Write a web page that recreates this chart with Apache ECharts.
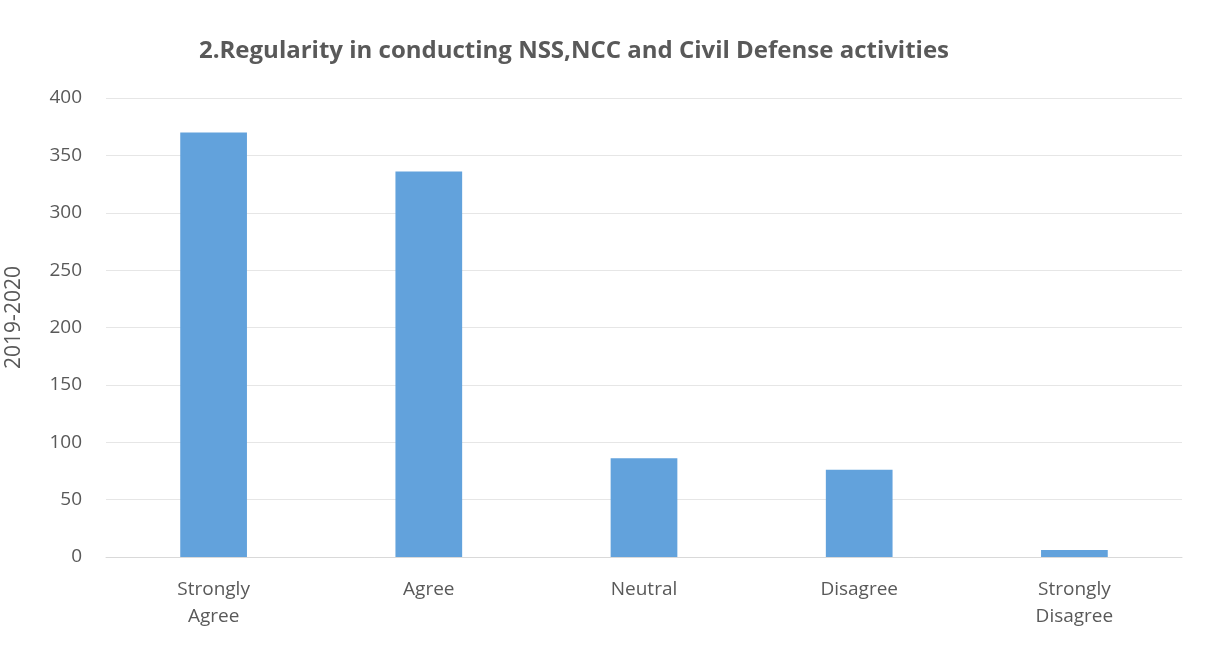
<!DOCTYPE html>
<html><head><meta charset="utf-8">
<script src="https://cdn.jsdelivr.net/npm/echarts@6/dist/echarts.min.js"></script>
<style>html,body{margin:0;padding:0;background:#fff}#c{width:1210px;height:648px}</style>
</head><body><div id="c"></div>
<script>
const categories = ['Strongly\nAgree', 'Agree', 'Neutral', 'Disagree', 'Strongly\nDisagree'];
const values = [370, 336, 86, 76, 6];
const titleText = '2.Regularity in conducting NSS,NCC and Civil Defense activities';
const yAxisName = '2019-2020';

const chart = echarts.init(document.getElementById('c'));
chart.setOption({
  animation: false,
  backgroundColor: '#fff',
  title: {
    text: titleText,
    left: 569, top: 34, textAlign: 'center',
    textStyle: {fontFamily: 'Open Sans', fontWeight: 'bold', fontSize: 24, color: '#595959'}
  },
  grid: {left: 106, right: 28, top: 98, bottom: 91, containLabel: false, outerBoundsMode: 'none'},
  xAxis: {
    type: 'category', data: categories,
    axisLine: {show: true, lineStyle: {color: '#d9d9d9'}},
    axisTick: {show: false},
    axisLabel: {color: '#595959', fontFamily: 'Open Sans', fontSize: 19, lineHeight: 27, margin: 19}
  },
  yAxis: {
    type: 'value', min: 0, max: 400, interval: 50,
    name: yAxisName, nameLocation: 'middle', nameGap: 81, nameRotate: 90,
    nameTextStyle: {color: '#595959', fontFamily: 'Open Sans', fontSize: 21, padding: [0, 0, 0, 20]},
    axisLine: {show: false}, axisTick: {show: false},
    axisLabel: {color: '#595959', fontFamily: 'Open Sans', fontSize: 19, margin: 24},
    splitLine: {lineStyle: {color: '#e6e6e6'}}
  },
  series: [{
    type: 'bar', data: values, barWidth: '31%',
    itemStyle: {color: '#62a2dc'}
  }]
});
</script></body></html>
